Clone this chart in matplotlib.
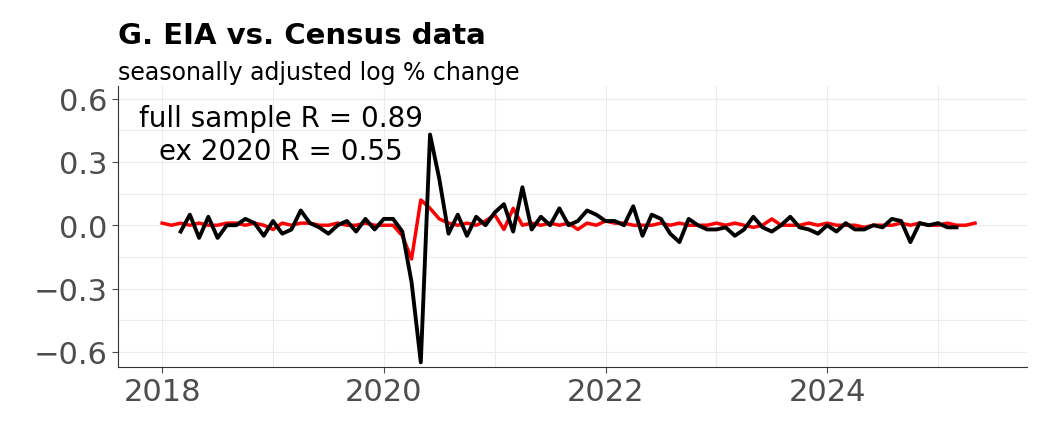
import numpy as np
import pandas as pd
import matplotlib.pyplot as plt

# monthly series, red from Jan 2018, black (EIA) from Mar 2018
red_start = "2018-01-01"
red = [0.01, -0.00, 0.01, 0.00, 0.01, 0.00, 0.00, 0.01, 0.01, 0.00, 0.01, 0.00,
       -0.02, 0.01, 0.00, 0.01, 0.01, 0.00, 0.00, 0.01, 0.00, 0.00, 0.01, 0.00,
       0.00, 0.00, -0.05, -0.16, 0.12, 0.08, 0.03, 0.01, 0.00, 0.01, 0.00, 0.02,
       0.05, -0.02, 0.08, 0.00, 0.01, 0.00, 0.01, 0.00, 0.01, -0.02, 0.01, 0.00,
       0.02, 0.01, 0.01, 0.00, 0.00, 0.00, 0.01, 0.00, 0.01, 0.00, 0.00, 0.00,
       0.01, 0.00, 0.01, 0.00, -0.01, 0.00, 0.03, 0.00, 0.00, 0.00, 0.01, 0.00,
       0.01, 0.00, 0.00, 0.00, -0.01, 0.00, 0.00, 0.00, 0.01, 0.00, 0.01, 0.00,
       0.00, 0.01, 0.00, 0.00, 0.01]
black_start = "2018-03-01"
black = [-0.03, 0.05, -0.06, 0.04, -0.06, 0.00, 0.00, 0.03, 0.01, -0.05,
         0.02, -0.04, -0.02, 0.07, 0.01, -0.01, -0.04, 0.00, 0.02, -0.03,
         0.03, -0.02, 0.03, 0.03, -0.03, -0.27, -0.65, 0.43, 0.22, -0.04,
         0.05, -0.05, 0.04, 0.00, 0.06, 0.10, -0.03, 0.18, -0.02, 0.04,
         0.00, 0.08, 0.00, 0.02, 0.07, 0.05, 0.02, 0.02, 0.00, 0.09,
         -0.05, 0.05, 0.03, -0.04, -0.08, 0.03, 0.00, -0.02, -0.02, -0.01,
         -0.05, -0.02, 0.04, -0.01, -0.03, 0.00, 0.04, -0.01, -0.02, -0.04,
         0.00, -0.03, 0.01, -0.02, -0.02, 0.00, -0.01, 0.03, 0.02, -0.08,
         0.01, 0.00, 0.01, -0.01, -0.01]
yticks = [-0.6, -0.3, 0.0, 0.3, 0.6]
xticks = [2018, 2020, 2022, 2024]

red_x = pd.date_range(red_start, periods=len(red), freq="MS")
black_x = pd.date_range(black_start, periods=len(black), freq="MS")

def frac_year(d):
    return d.year + (d.month - 1) / 12

fig = plt.figure(figsize=(10.52, 4.35), dpi=100)
ax = fig.add_axes([0.112, 0.155, 0.864, 0.645])
ax.plot(frac_year(red_x), red, color="red", lw=2.5)
ax.plot(frac_year(black_x), black, color="black", lw=2.8)

ax.set_xlim(2017.6, 2025.8)
ax.set_ylim(-0.67, 0.66)
ax.set_yticks(yticks)
ax.set_yticklabels([f"{v:.1f}".replace("-", "\u2212") for v in yticks])
ax.set_xticks(xticks)
ax.set_xticks(np.arange(2019, 2026, 2), minor=True)
ax.set_yticks(np.arange(-0.45, 0.7, 0.3), minor=True)
ax.grid(True, which="both", color="#ebebeb", lw=0.8)
ax.set_axisbelow(True)
for s in ["top", "right"]:
    ax.spines[s].set_visible(False)
for s in ["left", "bottom"]:
    ax.spines[s].set_color("#333333")
ax.tick_params(axis="both", which="major", labelsize=22, colors="#4d4d4d", length=4)
ax.tick_params(axis="both", which="minor", length=0)

ax.text(2019.07, 0.51, "full sample R = 0.89", fontsize=20, ha="center", va="center")
ax.text(2019.07, 0.35, "ex 2020 R = 0.55", fontsize=20, ha="center", va="center")

fig.text(0.112, 0.90, "G. EIA vs. Census data", fontsize=21, fontweight="bold")
fig.text(0.112, 0.815, "seasonally adjusted log % change", fontsize=17)
fig.savefig("out.png")
